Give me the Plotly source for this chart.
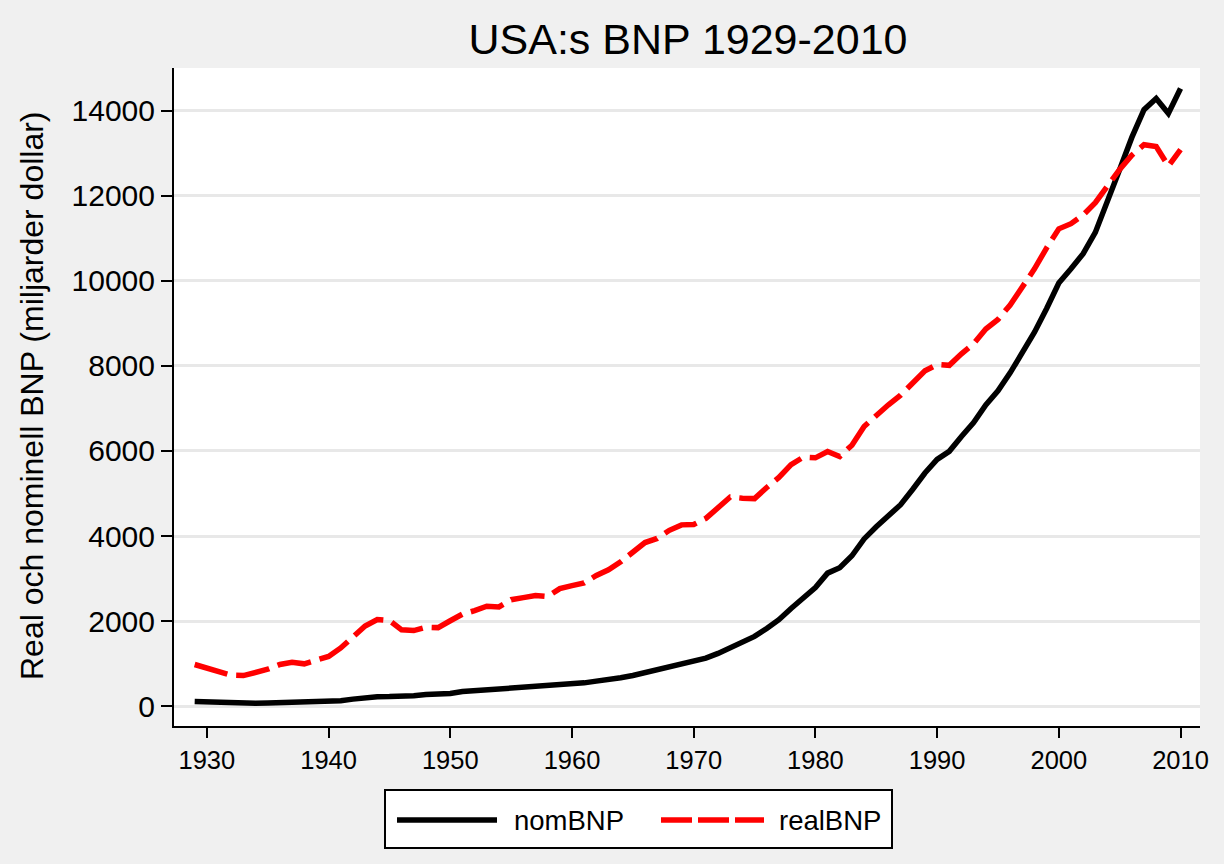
import plotly.graph_objects as go

years = list(range(1929, 2011))

nomBNP = [103.6, 91.2, 76.5, 58.7, 56.4, 66.0, 73.3, 83.8, 91.9, 86.1,
          92.2, 101.4, 126.7, 161.9, 198.6, 219.8, 223.0, 222.2, 244.1, 269.1,
          267.2, 293.7, 339.3, 358.3, 379.3, 380.4, 414.8, 437.5, 461.1, 467.2,
          506.6, 526.4, 544.8, 585.7, 617.8, 663.6, 719.1, 787.7, 832.4, 909.8,
          984.4, 1038.3, 1126.8, 1237.9, 1382.3, 1499.5, 1637.7, 1824.6, 2030.1, 2293.8,
          2562.2, 2788.1, 3126.8, 3253.2, 3534.6, 3930.9, 4217.5, 4460.1, 4736.4, 5100.4,
          5482.1, 5800.5, 5992.1, 6342.3, 6667.4, 7085.2, 7414.7, 7838.5, 8332.4, 8793.5,
          9353.5, 9951.5, 10286.2, 10642.3, 11142.2, 11853.3, 12623.0, 13377.2, 14028.7, 14291.5,
          13939.0, 14526.5]

realBNP = [977.0, 892.8, 834.9, 725.8, 716.4, 794.4, 865.0, 977.9, 1028.0, 992.6,
           1072.8, 1166.9, 1366.1, 1618.2, 1883.1, 2035.2, 2012.4, 1792.2, 1776.1, 1854.2,
           1844.7, 2006.0, 2161.1, 2243.9, 2347.2, 2332.4, 2500.3, 2549.7, 2601.1, 2577.6,
           2762.5, 2830.9, 2896.9, 3072.4, 3206.7, 3392.3, 3610.1, 3845.3, 3942.5, 4133.4,
           4261.8, 4269.9, 4413.3, 4647.7, 4917.0, 4889.9, 4879.5, 5141.3, 5377.7, 5677.6,
           5855.0, 5839.0, 5987.2, 5870.9, 6136.2, 6577.1, 6849.3, 7086.5, 7313.3, 7613.9,
           7885.9, 8033.9, 8015.1, 8287.1, 8523.4, 8870.7, 9093.7, 9433.9, 9854.3, 10283.5,
           10779.8, 11226.0, 11347.2, 11553.0, 11840.7, 12246.9, 12623.0, 12958.5, 13206.4, 13161.9,
           12703.1, 13088.0]

x_ticks = [1930, 1940, 1950, 1960, 1970, 1980, 1990, 2000, 2010]
y_ticks = [0, 2000, 4000, 6000, 8000, 10000, 12000, 14000]

title_text = "USA:s BNP 1929-2010"
ytitle_text = "Real och nominell BNP (miljarder dollar)"
series_names = ["nomBNP", "realBNP"]

W, H = 1224, 864
L, R, T, B = 174, 24, 68, 138
pw, ph = W - L - R, H - T - B

def px(xp):
    return (xp - L) / pw

def py(yp):
    return (H - B - yp) / ph

FONT = "Liberation Sans, Arial, sans-serif"
DASH = "34px,9px"

fig = go.Figure()
fig.add_trace(go.Scatter(x=years, y=nomBNP, mode="lines", name=series_names[0],
                         line=dict(color="black", width=5.5), showlegend=False))
fig.add_trace(go.Scatter(x=years, y=realBNP, mode="lines", name=series_names[1],
                         line=dict(color="#ff0000", width=5.5, dash=DASH), showlegend=False))

shapes = [
    dict(type="rect", xref="paper", yref="paper", x0=px(385), x1=px(892), y0=py(790), y1=py(848),
         line=dict(color="black", width=2), fillcolor="white", layer="above"),
    dict(type="line", xref="paper", yref="paper", x0=px(397), x1=px(497), y0=py(820), y1=py(820),
         line=dict(color="black", width=5.5)),
    dict(type="line", xref="paper", yref="paper", x0=px(661), x1=px(764), y0=py(820), y1=py(820),
         line=dict(color="#ff0000", width=5.5, dash="31px,6px")),
]

annotations = [
    dict(text=series_names[0], xref="paper", yref="paper", x=px(512), y=py(820),
         xanchor="left", yanchor="middle", showarrow=False, font=dict(size=27.5, color="black", family=FONT)),
    dict(text=series_names[1], xref="paper", yref="paper", x=px(777), y=py(820),
         xanchor="left", yanchor="middle", showarrow=False, font=dict(size=27.5, color="black", family=FONT)),
    dict(text=ytitle_text, xref="paper", yref="paper", x=px(32), y=py(396),
         xanchor="center", yanchor="middle", textangle=-90, showarrow=False,
         font=dict(size=32, color="black", family=FONT)),
]

fig.update_layout(
    width=W, height=H,
    margin=dict(l=L, r=R, t=T, b=B, pad=0),
    paper_bgcolor="#f0f0f0",
    plot_bgcolor="white",
    font=dict(family=FONT, color="black"),
    title=dict(text=title_text, x=px(688), xref="paper", xanchor="center",
               y=1 - 39 / H, yanchor="middle", font=dict(size=43, color="black", family=FONT)),
    showlegend=False,
    shapes=shapes,
    annotations=annotations,
)

fig.update_xaxes(
    range=[1927.3, 2011.6], tickvals=x_ticks, ticktext=[str(v) for v in x_ticks],
    showgrid=False, zeroline=False, showline=True, linecolor="black", linewidth=2,
    ticks="outside", ticklen=10, tickwidth=2, tickcolor="black",
    tickfont=dict(size=25.5, color="black", family=FONT),
)
fig.update_yaxes(
    range=[-470, 15010], tickvals=y_ticks, ticktext=[str(v) for v in y_ticks],
    showgrid=True, gridcolor="#e8e8e8", gridwidth=2.5, zeroline=False,
    showline=True, linecolor="black", linewidth=2,
    ticks="outside", ticklen=11, tickwidth=2, tickcolor="black",
    tickfont=dict(size=30, color="black", family=FONT),
)

fig.write_html("out.html", config={"displayModeBar": False},
               post_script="document.body.style.margin='0';document.body.style.background='#f0f0f0';")
